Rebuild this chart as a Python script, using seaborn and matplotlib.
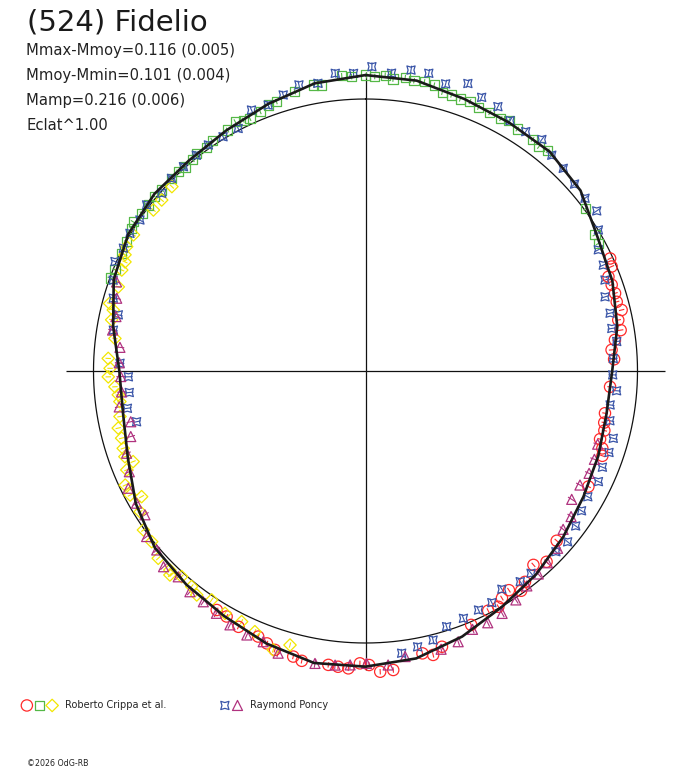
import matplotlib

matplotlib.use("Agg")
import matplotlib.pyplot as plt
import numpy as np
import seaborn as sns
from matplotlib.legend_handler import HandlerTuple

sns.set_theme(style="white")
plt.rcParams["font.family"] = ["DejaVu Sans"]

TITLE = "(524) Fidelio"
STATS = [
    "Mmax-Mmoy=0.116 (0.005)",
    "Mmoy-Mmin=0.101 (0.004)",
    "Mamp=0.216 (0.006)",
    "Eclat^1.00",
]
OBSERVERS = ["Roberto Crippa et al.", "Raymond Poncy"]
CREDIT = "\u00a92026 OdG-RB"

# fitted light curve, position angle (deg, clockwise from top) -> relative flux radius
CURVE_PA = [0, 10, 20, 30, 40, 50, 60, 70, 80, 90, 100, 110, 120, 130, 140, 150, 160, 170,
            180, 190, 200, 210, 220, 230, 240, 250, 260, 270, 280, 290, 300, 310, 320, 330, 340, 350]
CURVE_R = [1.088, 1.084, 1.064, 1.055, 1.053, 1.032, 0.985, 0.966, 0.940, 0.907, 0.900, 0.911,
           0.925, 0.949, 0.976, 1.002, 1.039, 1.073, 1.087, 1.090, 1.066, 1.040, 1.025, 1.011,
           0.975, 0.930, 0.905, 0.905, 0.942, 0.985, 1.007, 1.013, 1.010, 1.022, 1.045, 1.074]

# Roberto Crippa et al. (three sessions)
RED_PA = [65.3, 67.0, 68.8, 70.7, 72.7, 74.6, 76.6, 78.6, 80.9, 82.9, 85.1, 87.3, 93.7, 100.0,
          102.2, 104.0, 106.2, 108.1, 109.7, 117.4, 131.6, 136.5, 139.1, 142.9, 144.7, 146.8,
          149.0, 150.6, 152.9, 157.4, 164.5, 166.6, 168.6, 174.7, 177.2, 179.3, 181.1, 183.3,
          185.3, 187.2, 192.4, 194.2, 198.0, 199.9, 202.0, 206.4, 209.5, 211.9]
RED_R = [0.990, 0.983, 0.958, 0.959, 0.961, 0.958, 0.968, 0.948, 0.950, 0.924, 0.908, 0.915,
         0.901, 0.894, 0.898, 0.905, 0.898, 0.916, 0.925, 0.923, 0.940, 0.967, 0.943, 0.972,
         0.990, 0.963, 0.974, 0.995, 0.990, 1.011, 1.052, 1.073, 1.059, 1.104, 1.107, 1.081,
         1.075, 1.095, 1.092, 1.089, 1.091, 1.083, 1.078, 1.065, 1.053, 1.050, 1.037, 1.035]

GREEN_PA = [0.0, 1.8, 3.8, 5.4, 7.7, 9.5, 11.5, 13.5, 15.4, 17.3, 19.2, 21.2, 23.2, 25.7, 28.2,
            29.8, 32.1, 35.8, 37.7, 39.6, 53.6, 59.3, 61.3, 357.3, 355.4, 351.3, 349.7, 345.8,
            341.7, 339.9, 337.9, 335.4, 334.0, 332.4, 330.2, 326.4, 324.6, 322.2, 320.7, 318.5,
            316.8, 314.8, 311.6, 309.6, 307.4, 305.2, 302.7, 301.4, 298.4, 295.8, 292.0, 290.0]
GREEN_R = [1.088, 1.083, 1.090, 1.078, 1.089, 1.082, 1.085, 1.081, 1.063, 1.063, 1.059, 1.062,
           1.055, 1.054, 1.053, 1.061, 1.050, 1.050, 1.043, 1.051, 1.006, 0.981, 0.976, 1.083,
           1.089, 1.064, 1.069, 1.059, 1.043, 1.041, 1.029, 1.021, 1.026, 1.034, 1.021, 1.019,
           1.009, 1.013, 1.003, 1.001, 1.005, 1.005, 1.002, 1.005, 1.005, 1.006, 1.015, 1.007,
           0.998, 0.995, 0.993, 0.999]

YELLOW_PA = [313.6, 310.0, 307.2, 300.4, 297.5, 295.8, 294.4, 292.5, 288.8, 284.8, 283.6, 281.4,
             277.4, 272.8, 270.6, 268.7, 266.4, 264.5, 262.9, 259.5, 257.0, 254.6, 252.3, 250.4,
             248.7, 247.5, 244.6, 242.2, 240.7, 238.0, 234.4, 231.4, 227.9, 224.5, 223.8, 221.8,
             218.9, 217.0, 213.9, 210.1, 206.3, 203.0, 198.3, 195.4]
YELLOW_R = [0.983, 0.978, 0.979, 0.989, 0.990, 0.982, 0.971, 0.970, 0.960, 0.973, 0.954, 0.952,
            0.929, 0.947, 0.939, 0.946, 0.923, 0.913, 0.910, 0.918, 0.933, 0.930, 0.935, 0.939,
            0.917, 0.950, 0.978, 0.978, 0.944, 0.977, 1.004, 1.006, 1.027, 1.026, 1.039, 1.014,
            1.018, 1.031, 1.014, 1.030, 1.028, 1.041, 1.080, 1.045]

# Raymond Poncy (two sessions)
BLUE_PA = [1.2, 5.0, 8.6, 12.0, 15.6, 19.6, 23.0, 26.6, 30.0, 33.8, 37.3, 40.8, 44.3, 48.2, 51.8,
           55.3, 58.8, 62.5, 66.0, 69.2, 72.8, 76.7, 80.2, 83.3, 87.1, 90.9, 94.5, 97.9, 101.5,
           105.2, 108.5, 112.1, 115.4, 119.5, 122.9, 126.4, 130.2, 133.5, 140.7, 143.7, 148.0,
           151.4, 154.7, 158.4, 162.4, 165.9, 169.3, 172.7, 354.2, 357.7, 350.6, 346.9, 343.4,
           339.9, 336.4, 332.3, 328.7, 325.2, 321.9, 318.3, 314.8, 311.1, 307.2, 303.8, 300.3,
           296.9, 293.6, 289.8, 286.1, 282.8, 279.2, 271.8, 268.6, 264.8, 261.1, 257.5]
BLUE_R = [1.119, 1.099, 1.119, 1.119, 1.096, 1.122, 1.093, 1.087, 1.063, 1.059, 1.070, 1.048,
          1.041, 1.031, 1.027, 1.034, 1.001, 0.965, 0.957, 0.942, 0.922, 0.924, 0.919, 0.930,
          0.912, 0.909, 0.926, 0.908, 0.917, 0.944, 0.944, 0.940, 0.948, 0.939, 0.946, 0.960,
          0.973, 0.965, 0.961, 0.961, 0.946, 0.970, 0.972, 0.978, 0.986, 1.020, 1.032, 1.046,
          1.100, 1.095, 1.072, 1.080, 1.059, 1.041, 1.047, 1.007, 1.008, 1.012, 1.008, 1.006,
          1.005, 0.994, 1.010, 0.998, 1.003, 0.998, 1.005, 0.986, 0.965, 0.932, 0.939, 0.903,
          0.872, 0.872, 0.886, 0.862]

MAG_PA = [289.7, 286.3, 282.3, 279.2, 275.5, 271.9, 268.7, 265.1, 261.7, 257.8, 254.4, 251.0,
          246.9, 243.7, 240.0, 236.9, 232.9, 229.4, 225.9, 222.3, 218.5, 215.1, 211.6, 208.1,
          204.2, 200.7, 197.2, 189.8, 185.9, 183.0, 179.8, 175.6, 172.1, 164.8, 161.1, 157.5,
          154.1, 150.6, 146.7, 143.1, 139.6, 136.5, 132.7, 128.7, 125.3, 121.9, 118.0, 114.6,
          111.1, 107.5]
MAG_R = [0.972, 0.953, 0.939, 0.942, 0.907, 0.906, 0.900, 0.900, 0.915, 0.883, 0.896, 0.929,
         0.944, 0.973, 0.972, 0.968, 1.009, 1.011, 1.034, 1.023, 1.037, 1.037, 1.046, 1.058,
         1.064, 1.064, 1.086, 1.091, 1.087, 1.082, 1.075, 1.084, 1.060, 1.060, 1.052, 1.028,
         1.029, 1.023, 1.007, 0.988, 0.980, 0.972, 0.961, 0.931, 0.926, 0.893, 0.893, 0.904,
         0.902, 0.895]

CRIPPA_ERR = 0.010
PONCY_ERR = 0.016

W, H = 688, 768
fig = plt.figure(figsize=(W / 100, H / 100), dpi=100)
fig.patch.set_facecolor("white")

# polar frame centred on the reference circle (r = 1 -> 272 px)
r_max = 1.2
side = 2 * r_max * 272
cx, cy = 365.5, 371
ax = fig.add_axes(
    [(cx - side / 2) / W, (H - cy - side / 2) / H, side / W, side / H],
    projection="polar",
)
ax.set_theta_zero_location("N")
ax.set_theta_direction(-1)
ax.set_facecolor("white")

ring = np.deg2rad(np.linspace(0, 360, 721))
ax.plot(ring, np.ones_like(ring), color="#111111", lw=0.9, zorder=1)
ax.vlines(np.deg2rad([0, 90, 180, 270]), 0, 1.1, color="#111111", lw=0.9, zorder=1)

curve_t = np.deg2rad(np.append(CURVE_PA, 360))
curve_r = np.append(CURVE_R, CURVE_R[0])
sns.lineplot(x=curve_t, y=curve_r, sort=False, estimator=None, color="#1a1a1a",
             lw=1.9, ax=ax, zorder=4)

series = [
    (RED_PA, RED_R, "#ff2a2a", "o", 66, CRIPPA_ERR),
    (GREEN_PA, GREEN_R, "#55b847", "s", 44, CRIPPA_ERR),
    (YELLOW_PA, YELLOW_R, "#f2e600", "D", 40, CRIPPA_ERR),
    (BLUE_PA, BLUE_R, "#3a55a8", (4, 1, 45), 70, PONCY_ERR),
    (MAG_PA, MAG_R, "#b0327f", "^", 52, PONCY_ERR),
]
handles = []
for pa, rr, col, mk, size, err in series:
    t = np.deg2rad(pa)
    rr = np.asarray(rr)
    ax.vlines(t, rr - err, rr + err, color=col, lw=0.8, zorder=2)
    sns.scatterplot(x=t, y=rr, marker=mk, s=size, color=col, facecolor="none",
                    edgecolor=col, linewidth=0.9, ax=ax, zorder=3)
    handles.append(ax.collections[-1])

ax.set_rlim(0, r_max)
ax.set_xticks([])
ax.set_yticks([])
ax.grid(False)
ax.spines["polar"].set_visible(False)
ax.set_xlabel("")
ax.set_ylabel("")

fig.text(27 / W, 1 - 31 / H, TITLE, fontsize=21, color="#1a1a1a", va="baseline")
for i, line in enumerate(STATS):
    fig.text(26 / W, 1 - (55 + 25 * i) / H, line, fontsize=10.6, color="#222222",
             va="baseline")

legend_kw = dict(
    handler_map={tuple: HandlerTuple(ndivide=None, pad=0.3)},
    loc="center left",
    frameon=False,
    fontsize=7,
    handletextpad=0.8,
    borderpad=0,
    borderaxespad=0,
    scatterpoints=1,
)
# fig.legend registers each legend on the figure, so both stay visible
fig.legend(handles=[tuple(handles[:3])], labels=OBSERVERS[:1],
           bbox_to_anchor=(22 / W, 1 - 705 / H), handlelength=3.6, **legend_kw)
fig.legend(handles=[tuple(handles[3:])], labels=OBSERVERS[1:],
           bbox_to_anchor=(220 / W, 1 - 705 / H), handlelength=2.3, **legend_kw)
fig.text(27 / W, 1 - 763 / H, CREDIT, fontsize=5.7, color="#222222", va="center")

fig.savefig("out.png", dpi=100, facecolor="white")
